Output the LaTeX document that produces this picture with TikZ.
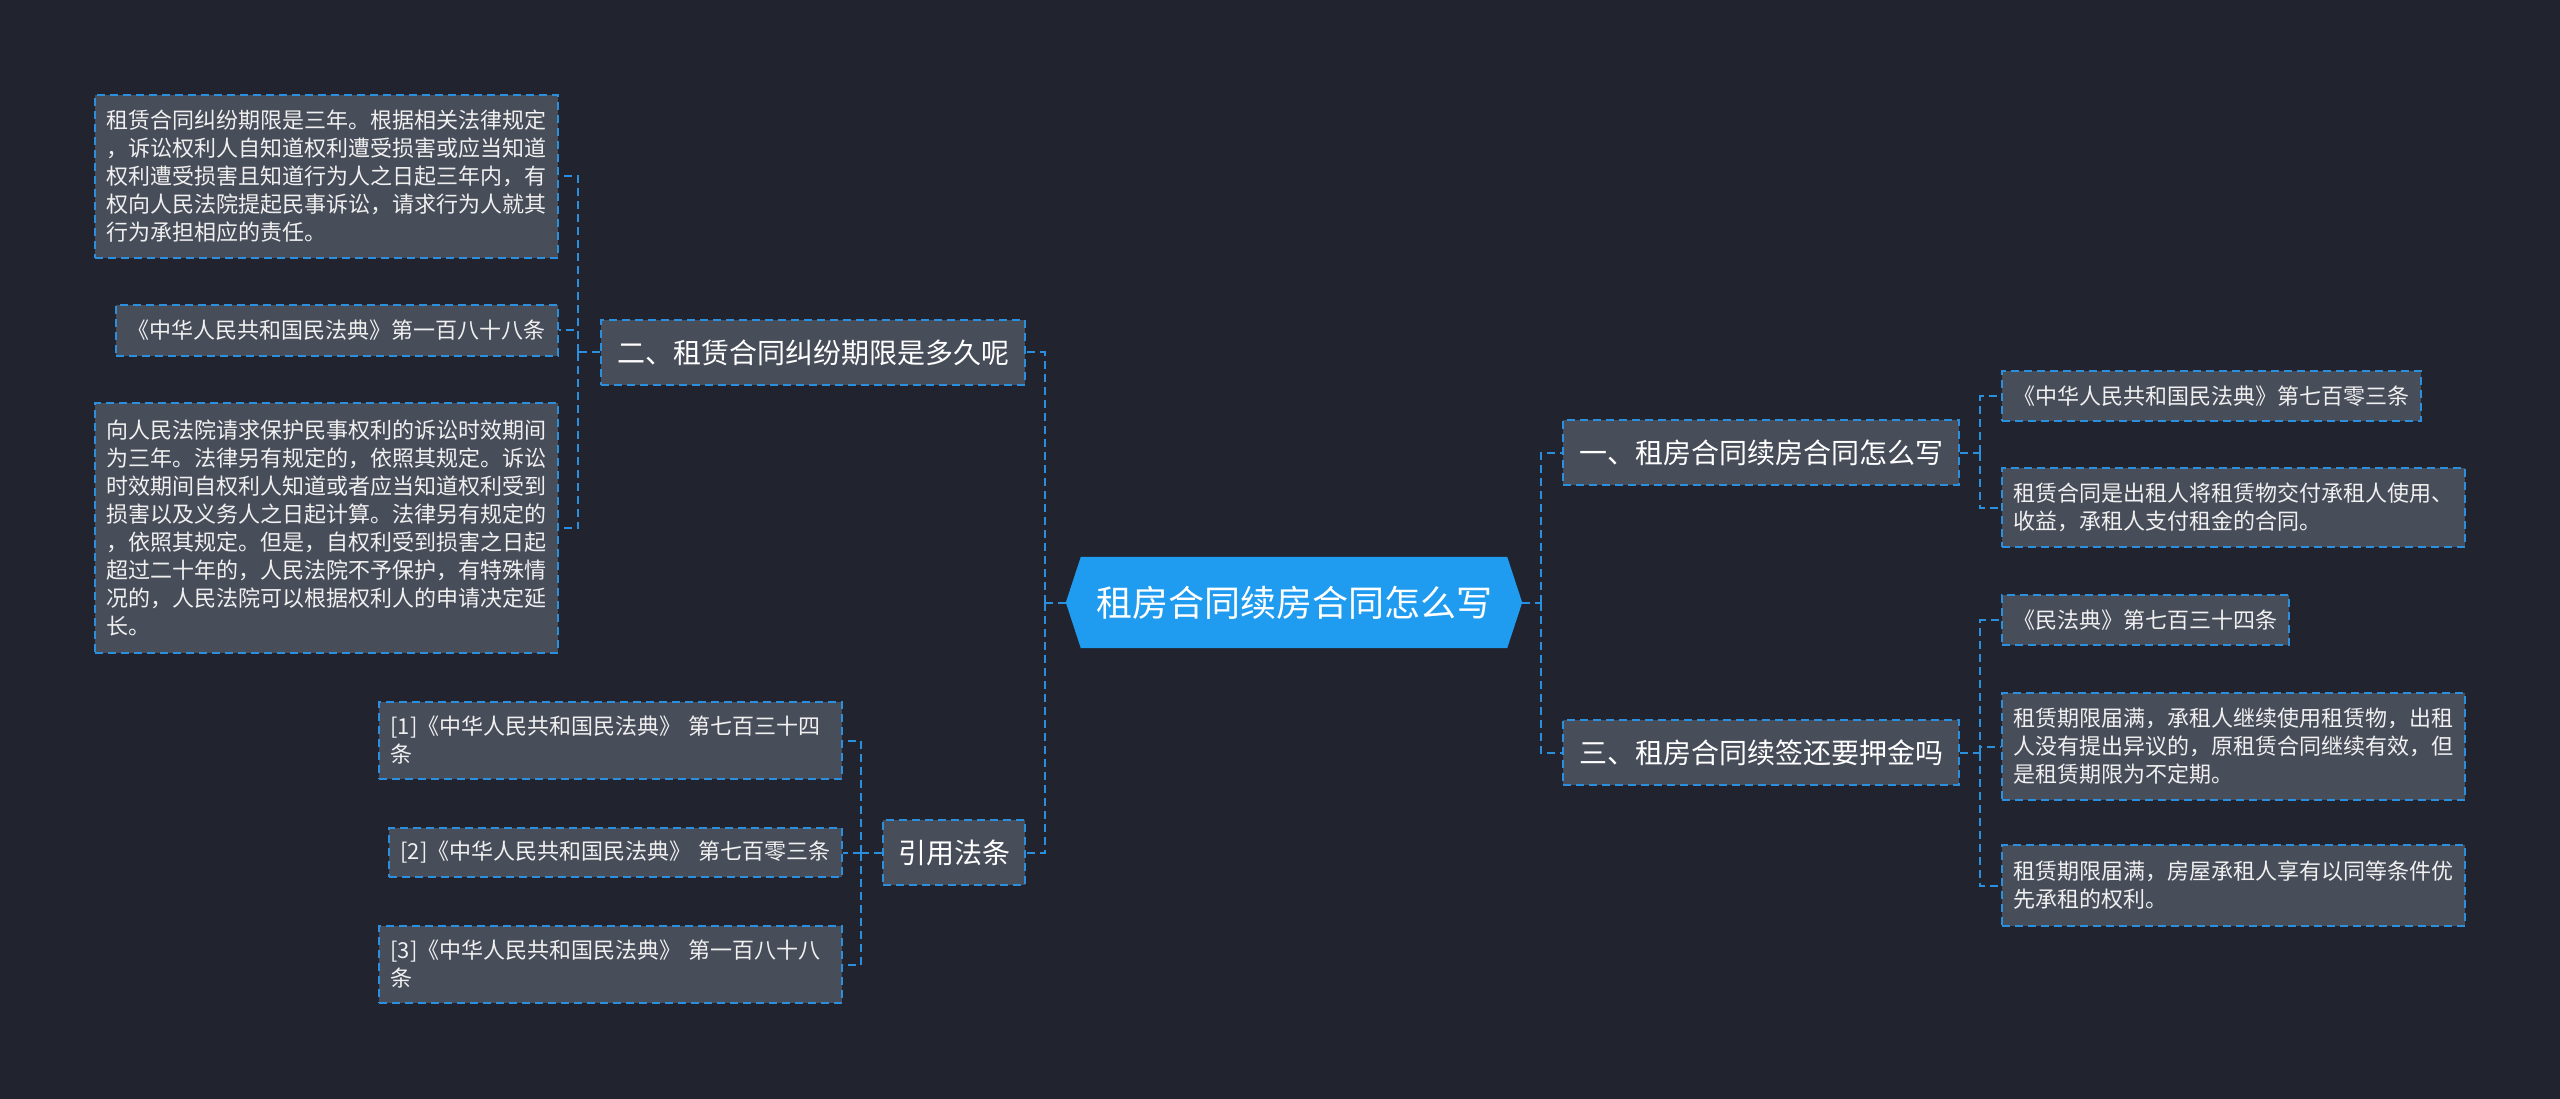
\documentclass[tikz,border=0pt]{standalone}
\usepackage{fontspec}
\setmainfont{Noto Sans CJK SC}
\usetikzlibrary{calc,backgrounds}
\definecolor{bg}{HTML}{21242E}
\definecolor{boxfill}{HTML}{484D5A}
\definecolor{edge}{HTML}{2B8FDE}
\definecolor{rootfill}{HTML}{1F9BF0}
\definecolor{txt}{HTML}{F0F0F0}
\begin{document}
\begin{tikzpicture}[x=1pt,y=-1pt,
  leaf/.style={draw=edge, fill=boxfill, line width=2pt, dash pattern=on 8pt off 5pt,
    text=txt, inner xsep=11.5pt, inner ysep=0pt, font=\fontsize{22}{28}\selectfont, align=left},
  mid/.style={draw=edge, fill=boxfill, line width=2pt, dash pattern=on 8pt off 5pt,
    text=white, inner sep=0pt, font=\fontsize{28}{34}\selectfont, align=center},
  rootn/.style={text=white, inner sep=0pt, font=\fontsize{36}{44}\selectfont},
  conn/.style={draw=edge, line width=2pt, dash pattern=on 8pt off 5pt},
]
\useasboundingbox (0,0) rectangle (2560,1099);

% root
\node[rootn, minimum width=456pt, minimum height=91pt] (root) at (1294,602.5) {租房合同续房合同怎么写};

% left branch
\node[mid, minimum width=424pt, minimum height=65pt] (n2) at (813,352.5) {二、租赁合同纠纷期限是多久呢};
\node[mid, minimum width=142pt, minimum height=65pt] (ref) at (954,852.5) {引用法条};

\node[leaf, text width=440pt, minimum height=163pt] (b1) at (326.5,176.5)
 {租赁合同纠纷期限是三年。根据相关法律规定\\，诉讼权利人自知道权利遭受损害或应当知道\\权利遭受损害且知道行为人之日起三年内，有\\权向人民法院提起民事诉讼，请求行为人就其\\行为承担相应的责任。};
\node[leaf, text width=419pt, minimum height=51pt] (b2) at (337,330.5)
 {《中华人民共和国民法典》第一百八十八条};
\node[leaf, text width=440pt, minimum height=250pt] (b3) at (326.5,528)
 {向人民法院请求保护民事权利的诉讼时效期间\\为三年。法律另有规定的，依照其规定。诉讼\\时效期间自权利人知道或者应当知道权利受到\\损害以及义务人之日起计算。法律另有规定的\\，依照其规定。但是，自权利受到损害之日起\\超过二十年的，人民法院不予保护，有特殊情\\况的，人民法院可以根据权利人的申请决定延\\长。};

\node[leaf, text width=440pt, minimum height=77pt] (r1) at (610.5,740.5)
 {[1]《中华人民共和国民法典》~第七百三十四\\条};
\node[leaf, text width=430pt, minimum height=49pt] (r2) at (615.5,852.5)
 {\mbox{[2]《中华人民共和国民法典》~第七百零三条}};
\node[leaf, text width=440pt, minimum height=77pt] (r3) at (610.5,964.5)
 {[3]《中华人民共和国民法典》~第一百八十八\\条};

% right branch
\node[mid, minimum width=396pt, minimum height=65pt] (n1) at (1761,452.5) {一、租房合同续房合同怎么写};
\node[mid, minimum width=396pt, minimum height=65pt] (n3) at (1761,752.5) {三、租房合同续签还要押金吗};

\node[leaf, text width=396pt, minimum height=50pt] (a1) at (2211,396)
 {《中华人民共和国民法典》第七百零三条};
\node[leaf, text width=440pt, minimum height=79pt] (a2) at (2233.5,507.5)
 {租赁合同是出租人将租赁物交付承租人使用、\\收益，承租人支付租金的合同。};

\node[leaf, text width=264pt, minimum height=50pt] (c1) at (2145.5,620)
 {《民法典》第七百三十四条};
\node[leaf, text width=440pt, minimum height=107pt] (c2) at (2233.5,746.5)
 {租赁期限届满，承租人继续使用租赁物，出租\\人没有提出异议的，原租赁合同继续有效，但\\是租赁期限为不定期。};
\node[leaf, text width=440pt, minimum height=81pt] (c3) at (2233.5,885.5)
 {租赁期限届满，房屋承租人享有以同等条件优\\先承租的权利。};

% connectors
\draw[conn] (root.west) -- ++(-21,0) coordinate (jl);
\draw[conn] (jl) |- (n2.east);
\draw[conn] (jl) |- (ref.east);
\draw[conn] (root.east) -- ++(19,0) coordinate (jr);
\draw[conn] (jr) |- (n1.west);
\draw[conn] (jr) |- (n3.west);

\draw[conn] (n2.west) -- ++(-22,0) coordinate (j2);
\draw[conn] (j2) |- (b1.east);
\draw[conn] (j2) |- (b2.east);
\draw[conn] (j2) |- (b3.east);

\draw[conn] (ref.west) -- ++(-21,0) coordinate (jref);
\draw[conn] (jref) |- (r1.east);
\draw[conn] (jref) |- (r2.east);
\draw[conn] (jref) |- (r3.east);

\draw[conn] (n1.east) -- ++(20,0) coordinate (j1);
\draw[conn] (j1) |- (a1.west);
\draw[conn] (j1) |- (a2.west);

\draw[conn] (n3.east) -- ++(20,0) coordinate (j3);
\draw[conn] (j3) |- (c1.west);
\draw[conn] (j3) |- (c2.west);
\draw[conn] (j3) |- (c3.west);

\begin{scope}[on background layer]
\fill[bg] (0,0) rectangle (2560,1099);
\fill[rootfill] (root.west) -- ($(root.north west)+(15,0)$) -- ($(root.north east)+(-15,0)$)
  -- (root.east) -- ($(root.south east)+(-15,0)$) -- ($(root.south west)+(15,0)$) -- cycle;
\end{scope}
\end{tikzpicture}
\end{document}
